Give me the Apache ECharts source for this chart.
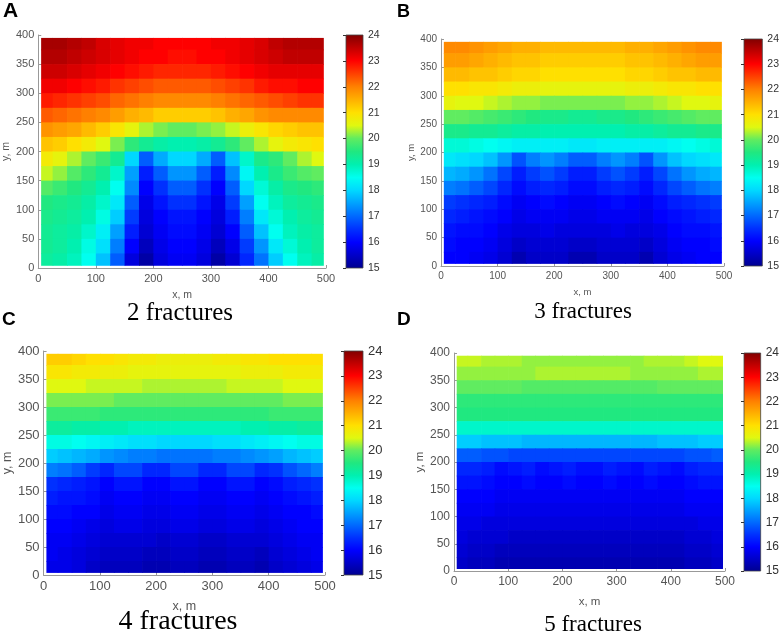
<!DOCTYPE html>
<html>
<head>
<meta charset="utf-8">
<script src="https://cdn.jsdelivr.net/npm/echarts@6/dist/echarts.min.js"></script>
<style>
html,body{margin:0;padding:0;background:#fff;}
#chart{width:782px;height:635px;}
</style>
</head>
<body>
<div id="chart"></div>
<script>
// ---------- data ----------
const PANEL_LETTERS = ['A', 'B', 'C', 'D'];
const PANEL_TITLES = ['2 fractures', '3 fractures', '4 fractures', '5 fractures'];
const X_CELLS = [12.5,37.5,62.5,87.5,112.5,137.5,162.5,187.5,212.5,237.5,262.5,287.5,312.5,337.5,362.5,387.5,412.5,437.5,462.5,487.5];
const Y_CELLS = [387.5,362.5,337.5,312.5,287.5,262.5,237.5,212.5,187.5,162.5,137.5,112.5,87.5,62.5,37.5,12.5];
const X_RANGE = [0, 500];
const Y_RANGE = [0, 400];
const COLOR_RANGE = [15, 24];
const X_TICK_STEP = 100;
const Y_TICK_STEP = 50;
const COLOR_TICK_STEP = 1;

// rows top (y=387.5) to bottom (y=12.5), columns x=12.5..487.5
const FIELD_2 = [
[23.7,23.7,23.6,23.5,23.3,23.2,23.1,23.1,23.0,23.0,23.0,23.0,23.1,23.1,23.2,23.3,23.5,23.6,23.6,23.6],
[23.6,23.6,23.5,23.4,23.3,23.2,23.1,23.0,23.0,22.9,22.9,23.0,23.0,23.1,23.2,23.3,23.4,23.5,23.5,23.5],
[23.4,23.4,23.3,23.2,23.1,23.0,22.9,22.8,22.7,22.7,22.7,22.7,22.8,22.9,23.0,23.1,23.2,23.2,23.2,23.2],
[23.1,23.1,23.0,22.9,22.8,22.6,22.5,22.4,22.3,22.3,22.3,22.3,22.4,22.5,22.6,22.8,22.9,22.9,23.0,23.0],
[22.8,22.7,22.6,22.5,22.4,22.2,22.1,22.0,21.9,21.9,21.9,21.9,22.0,22.1,22.2,22.3,22.4,22.5,22.6,22.6],
[22.3,22.2,22.1,22.0,21.9,21.7,21.5,21.4,21.2,21.2,21.2,21.2,21.3,21.5,21.6,21.8,21.9,21.9,21.9,21.9],
[21.8,21.7,21.6,21.4,21.2,20.9,20.6,20.3,20.1,20.0,20.0,20.1,20.2,20.4,20.7,20.9,21.1,21.2,21.3,21.3],
[21.3,21.2,21.0,20.8,20.5,20.1,19.6,19.3,19.1,19.0,19.0,19.1,19.3,19.6,20.0,20.3,20.6,20.8,20.9,21.0],
[20.8,20.6,20.3,20.0,19.7,19.3,18.0,16.9,17.6,18.0,18.0,17.6,16.9,17.8,18.8,19.4,19.6,20.0,20.3,20.5],
[20.4,20.2,19.9,19.6,19.3,18.8,17.5,16.3,16.9,17.4,17.4,16.9,16.3,17.3,18.4,19.0,19.4,19.7,19.9,20.0],
[19.9,19.7,19.5,19.3,19.0,18.5,17.3,16.0,16.5,16.9,16.9,16.5,16.0,16.9,18.0,18.7,19.1,19.4,19.5,19.6],
[19.5,19.4,19.3,19.1,18.8,18.2,16.9,15.8,16.2,16.5,16.5,16.2,15.8,16.6,17.5,18.5,18.9,19.2,19.3,19.4],
[19.4,19.3,19.2,19.0,18.6,17.9,16.6,15.7,16.0,16.2,16.2,16.0,15.7,16.3,17.2,18.2,18.7,19.0,19.2,19.3],
[19.3,19.2,19.1,18.8,18.3,17.5,16.3,15.6,15.9,16.1,16.1,15.9,15.6,16.0,16.9,17.8,18.5,18.9,19.1,19.2],
[19.3,19.2,19.0,18.6,18.1,17.2,16.0,15.4,15.8,16.0,16.0,15.8,15.4,15.8,16.6,17.4,18.2,18.7,19.0,19.2],
[19.2,19.1,18.9,18.5,17.8,16.9,15.7,15.2,15.7,15.9,15.9,15.7,15.2,15.6,16.4,17.1,17.9,18.5,18.9,19.1]
];
const FIELD_3 = [
[21.9,21.9,21.8,21.7,21.6,21.5,21.5,21.4,21.4,21.4,21.4,21.4,21.4,21.5,21.5,21.6,21.7,21.8,21.9,21.9],
[21.7,21.7,21.6,21.5,21.4,21.3,21.3,21.2,21.2,21.2,21.2,21.2,21.2,21.3,21.3,21.4,21.5,21.6,21.7,21.7],
[21.4,21.4,21.3,21.3,21.2,21.1,21.1,21.0,21.0,21.0,21.0,21.0,21.0,21.1,21.1,21.2,21.3,21.3,21.4,21.4],
[21.0,21.0,20.9,20.9,20.8,20.7,20.7,20.6,20.6,20.6,20.6,20.6,20.6,20.7,20.7,20.8,20.9,20.9,21.0,21.0],
[20.6,20.5,20.5,20.4,20.3,20.2,20.2,20.1,20.1,20.1,20.1,20.1,20.1,20.2,20.2,20.3,20.4,20.5,20.5,20.6],
[20.0,20.0,19.9,19.8,19.7,19.6,19.5,19.4,19.4,19.3,19.3,19.4,19.4,19.5,19.6,19.7,19.8,19.9,20.0,20.0],
[19.4,19.4,19.3,19.3,19.2,19.1,19.1,19.0,19.0,19.0,19.0,19.0,19.0,19.1,19.1,19.2,19.3,19.3,19.4,19.4],
[18.7,18.7,18.6,18.5,18.4,18.3,18.3,18.3,18.3,18.2,18.2,18.3,18.3,18.3,18.3,18.3,18.4,18.5,18.6,18.7],
[18.2,18.1,18.0,17.8,17.4,16.8,17.2,17.4,17.2,16.9,16.9,17.2,17.4,17.2,16.8,17.4,17.8,18.0,18.1,18.2],
[17.7,17.6,17.4,17.1,16.7,16.3,16.6,16.8,16.6,16.3,16.3,16.6,16.8,16.6,16.3,16.7,17.1,17.4,17.6,17.7],
[17.2,17.1,16.9,16.7,16.4,16.1,16.3,16.4,16.3,16.1,16.1,16.3,16.4,16.3,16.1,16.4,16.7,16.9,17.1,17.2],
[16.6,16.5,16.4,16.3,16.1,15.9,16.0,16.1,16.0,15.9,15.9,16.0,16.1,16.0,15.9,16.1,16.3,16.4,16.5,16.6],
[16.4,16.3,16.2,16.1,16.0,15.8,15.9,15.9,15.9,15.8,15.8,15.9,15.9,15.9,15.8,16.0,16.1,16.2,16.3,16.4],
[16.2,16.1,16.1,16.0,15.8,15.7,15.7,15.8,15.7,15.7,15.7,15.7,15.8,15.7,15.7,15.8,16.0,16.1,16.1,16.2],
[16.1,16.0,16.0,15.9,15.7,15.5,15.6,15.6,15.6,15.5,15.5,15.6,15.6,15.6,15.5,15.7,15.9,16.0,16.0,16.1],
[16.0,16.0,15.9,15.8,15.6,15.3,15.5,15.5,15.5,15.3,15.3,15.5,15.5,15.5,15.3,15.6,15.8,15.9,16.0,16.0]
];
const FIELD_4 = [
[21.2,21.2,21.1,21.0,21.0,20.9,20.8,20.8,20.7,20.7,20.7,20.7,20.8,20.8,20.9,20.9,21.0,21.0,21.0,21.0],
[20.9,20.9,20.8,20.8,20.7,20.7,20.6,20.6,20.6,20.6,20.6,20.6,20.6,20.6,20.7,20.7,20.7,20.8,20.8,20.8],
[20.5,20.5,20.5,20.4,20.4,20.4,20.4,20.3,20.3,20.3,20.3,20.3,20.3,20.4,20.4,20.4,20.4,20.5,20.5,20.5],
[20.1,20.1,20.1,20.1,20.1,20.0,20.0,20.0,20.0,20.0,20.0,20.0,20.0,20.0,20.0,20.0,20.0,20.1,20.1,20.1],
[19.7,19.7,19.7,19.7,19.6,19.6,19.6,19.6,19.6,19.6,19.6,19.6,19.6,19.6,19.6,19.6,19.7,19.7,19.7,19.7],
[19.2,19.2,19.1,19.1,19.0,19.0,18.9,18.9,18.9,18.9,18.9,18.9,18.9,18.9,19.0,19.0,19.1,19.1,19.2,19.2],
[18.6,18.6,18.5,18.4,18.3,18.2,18.1,18.1,18.0,18.0,18.0,18.0,18.1,18.1,18.2,18.3,18.4,18.5,18.6,18.6],
[17.9,17.8,17.7,17.6,17.4,17.3,17.2,17.2,17.1,17.1,17.1,17.1,17.2,17.2,17.3,17.4,17.5,17.7,17.8,17.9],
[17.2,17.1,16.9,16.6,16.4,16.7,16.7,16.4,16.4,16.7,16.7,16.4,16.4,16.7,16.7,16.4,16.5,16.8,17.0,17.2],
[16.5,16.4,16.3,16.2,16.0,16.2,16.2,16.0,16.0,16.2,16.2,16.0,16.0,16.2,16.2,16.0,16.1,16.3,16.4,16.5],
[16.3,16.2,16.2,16.1,15.9,16.0,16.0,15.9,15.9,16.0,16.0,15.9,15.9,16.0,16.0,15.9,16.0,16.1,16.2,16.3],
[16.1,16.1,16.0,16.0,15.8,15.9,15.9,15.8,15.8,15.9,15.9,15.8,15.8,15.9,15.9,15.8,15.9,16.0,16.0,16.1],
[16.0,16.0,15.9,15.8,15.7,15.8,15.8,15.7,15.7,15.8,15.8,15.7,15.7,15.8,15.8,15.7,15.8,15.9,16.0,16.0],
[15.9,15.9,15.8,15.7,15.6,15.6,15.6,15.6,15.5,15.6,15.6,15.5,15.5,15.6,15.6,15.6,15.7,15.8,15.9,15.9],
[15.9,15.8,15.7,15.6,15.5,15.5,15.5,15.4,15.4,15.5,15.5,15.4,15.4,15.5,15.5,15.4,15.6,15.7,15.8,15.9],
[15.8,15.8,15.7,15.5,15.4,15.4,15.4,15.3,15.3,15.4,15.4,15.3,15.3,15.4,15.4,15.3,15.5,15.6,15.7,15.8]
];
const FIELD_5 = [
[20.4,20.4,20.3,20.3,20.3,20.2,20.2,20.2,20.2,20.2,20.2,20.2,20.2,20.2,20.3,20.3,20.3,20.4,20.5,20.5],
[20.2,20.2,20.2,20.2,20.2,20.2,20.3,20.3,20.3,20.3,20.3,20.3,20.3,20.2,20.2,20.2,20.2,20.2,20.3,20.3],
[20.0,20.0,20.0,20.0,20.0,19.9,19.9,19.9,19.9,19.9,19.9,19.9,19.9,19.9,19.9,20.0,20.0,20.0,20.0,20.0],
[19.6,19.6,19.6,19.6,19.6,19.6,19.6,19.6,19.6,19.6,19.6,19.6,19.6,19.6,19.6,19.6,19.6,19.6,19.6,19.6],
[19.5,19.5,19.5,19.5,19.5,19.5,19.5,19.5,19.5,19.5,19.5,19.5,19.5,19.5,19.5,19.5,19.5,19.5,19.5,19.5],
[18.8,18.8,18.8,18.8,18.8,18.8,18.8,18.8,18.8,18.8,18.8,18.8,18.8,18.8,18.8,18.8,18.8,18.8,18.8,18.8],
[17.9,17.9,17.8,17.8,17.8,17.7,17.7,17.7,17.7,17.7,17.7,17.7,17.7,17.7,17.7,17.8,17.8,17.8,17.9,17.9],
[16.9,16.9,16.8,16.8,16.7,16.7,16.7,16.7,16.7,16.7,16.7,16.7,16.7,16.7,16.7,16.7,16.7,16.8,16.8,16.9],
[16.4,16.4,16.3,16.1,16.2,16.3,16.1,16.2,16.3,16.15,16.15,16.3,16.2,16.1,16.3,16.2,16.1,16.3,16.4,16.4],
[16.2,16.2,16.1,16.0,16.0,16.1,16.0,16.0,16.1,16.0,16.0,16.1,16.0,16.0,16.1,16.0,16.0,16.1,16.2,16.2],
[16.0,16.0,16.0,15.9,15.9,15.9,15.9,15.9,15.9,15.9,15.9,15.9,15.9,15.9,15.9,15.9,15.9,16.0,16.0,16.0],
[15.9,15.9,15.9,15.8,15.8,15.8,15.8,15.8,15.8,15.8,15.8,15.8,15.8,15.8,15.8,15.8,15.8,15.9,15.9,15.9],
[15.8,15.8,15.7,15.7,15.7,15.7,15.7,15.7,15.7,15.7,15.7,15.7,15.7,15.7,15.7,15.7,15.7,15.7,15.8,15.8],
[15.7,15.6,15.6,15.6,15.5,15.5,15.5,15.5,15.5,15.5,15.5,15.5,15.5,15.5,15.5,15.5,15.5,15.6,15.6,15.7],
[15.6,15.5,15.5,15.4,15.4,15.4,15.4,15.4,15.4,15.4,15.4,15.4,15.4,15.4,15.4,15.4,15.4,15.5,15.5,15.6],
[15.5,15.4,15.4,15.3,15.3,15.3,15.3,15.3,15.3,15.3,15.3,15.3,15.3,15.3,15.3,15.3,15.3,15.4,15.4,15.5]
];
const FIELDS = [FIELD_2, FIELD_3, FIELD_4, FIELD_5];

// ---------- style / layout ----------
const JET = ['#00008F','#0000C8','#0000FF','#0030FF','#0068FF','#00A0FF','#00D8FF','#00FFF0','#00F0B0',
             '#20E880','#60EC60','#E0F810','#FFE000','#FFB000','#FF8000','#FF4000','#FF0000','#C00000','#800000'];
const CELL = 25;
const FIELD_X = [5, 495];
const FIELD_Y = [5, 395];
const LAYOUT = [
  {grid:{left:34,top:35,width:292,height:233}, bar:{left:346,top:35,width:17,height:233},
   tick:11, barTick:10.5, nameGapX:22, nameGapY:21, letter:[3,1,21], title:[180,313,25]},
  {grid:{left:441,top:39,width:283,height:227}, bar:{left:744,top:39,width:20,height:227},
   tick:10, barTick:10.5, nameGapX:21, nameGapY:23, letter:[397,3,18], title:[583,312,23]},
  {grid:{left:43,top:351,width:282,height:224}, bar:{left:344,top:351,width:19,height:224},
   tick:13, barTick:13, nameGapX:25, nameGapY:29, letter:[2,310,19], title:[178,622,28]},
  {grid:{left:454,top:353,width:271,height:218}, bar:{left:744,top:353,width:20,height:218},
   tick:12, barTick:12, nameGapX:25, nameGapY:28, letter:[397,310,19], title:[593,625,23]}
];
const SANS = 'Liberation Sans, Arial, sans-serif';
const SERIF = 'Liberation Serif, Times New Roman, serif';

const chart = echarts.init(document.getElementById('chart'), null, {renderer:'canvas'});

function cellItem(params, api) {
  const cx = api.value(0), cy = api.value(1);
  const xa = Math.max(cx - CELL / 2, FIELD_X[0]), xb = Math.min(cx + CELL / 2, FIELD_X[1]);
  const ya = Math.max(cy - CELL / 2, FIELD_Y[0]), yb = Math.min(cy + CELL / 2, FIELD_Y[1]);
  const p0 = api.coord([xa, yb]), p1 = api.coord([xb, ya]);
  return {type:'rect', shape:{x:p0[0], y:p0[1], width:p1[0]-p0[0]+0.7, height:p1[1]-p0[1]+0.7},
          style:{fill: api.visual('color')}};
}
function barItem(params, api) {
  const p0 = api.coord([api.value(0), api.value(3)]);
  const p1 = api.coord([api.value(2), api.value(1)]);
  const stops = JET.slice().reverse().map((c, i, a) => ({offset: i / (a.length - 1), color: c}));
  return {type:'rect', shape:{x:p0[0], y:p0[1], width:p1[0]-p0[0], height:p1[1]-p0[1]},
          style:{fill: new echarts.graphic.LinearGradient(0, 0, 0, 1, stops), stroke:'#444', lineWidth:0.8}};
}

const grids = [], xAxes = [], yAxes = [], series = [], graphics = [];
LAYOUT.forEach((L, i) => {
  grids.push(L.grid);
  xAxes.push({type:'value', gridIndex:i, min:X_RANGE[0], max:X_RANGE[1], interval:X_TICK_STEP,
    name:'x, m', nameLocation:'middle', nameGap:L.nameGapX,
    nameTextStyle:{color:'#555', fontSize:L.tick - 0.5, fontFamily:SANS},
    axisLine:{show:true, lineStyle:{color:'#999', width:1}},
    axisTick:{show:true, inside:true, length:3, lineStyle:{color:'#999'}},
    axisLabel:{color:'#555', fontSize:L.tick, fontFamily:SANS, margin:5},
    splitLine:{show:false}});
  yAxes.push({type:'value', gridIndex:i, min:Y_RANGE[0], max:Y_RANGE[1], interval:Y_TICK_STEP,
    name:'y, m', nameLocation:'middle', nameGap:L.nameGapY, nameRotate:90,
    nameTextStyle:{color:'#555', fontSize:L.tick - 0.5, fontFamily:SANS},
    axisLine:{show:true, lineStyle:{color:'#999', width:1}},
    axisTick:{show:true, inside:true, length:3, lineStyle:{color:'#999'}},
    axisLabel:{color:'#555', fontSize:L.tick, fontFamily:SANS, margin:4},
    splitLine:{show:false}});
  const data = [];
  FIELDS[i].forEach((row, r) => row.forEach((v, c) => data.push([X_CELLS[c], Y_CELLS[r], v])));
  series.push({type:'custom', xAxisIndex:i, yAxisIndex:i, renderItem:cellItem, data:data,
    encode:{x:0, y:1}, clip:true, silent:true});
});
LAYOUT.forEach((L, i) => {
  const gi = 4 + i;
  grids.push(L.bar);
  xAxes.push({type:'value', gridIndex:gi, min:0, max:1, show:false});
  yAxes.push({type:'value', gridIndex:gi, min:COLOR_RANGE[0], max:COLOR_RANGE[1], interval:COLOR_TICK_STEP,
    position:'right',
    axisLine:{show:false},
    axisTick:{show:true, inside:true, length:3, lineStyle:{color:'#333'}},
    axisLabel:{color:'#333', fontSize:L.barTick, fontFamily:SANS, margin:5},
    splitLine:{show:false}, z:5});
  series.push({type:'custom', xAxisIndex:gi, yAxisIndex:gi, renderItem:barItem,
    data:[[0, COLOR_RANGE[0], 1, COLOR_RANGE[1]]], encode:{x:[0,2], y:[1,3]}, silent:true, z:1});
  graphics.push({type:'text', x:L.letter[0], y:L.letter[1],
    style:{text:PANEL_LETTERS[i], font:'bold ' + L.letter[2] + 'px ' + SANS, fill:'#000', textVerticalAlign:'top'}});
  graphics.push({type:'text', x:L.title[0], y:L.title[1],
    style:{text:PANEL_TITLES[i], font:L.title[2] + 'px ' + SERIF, fill:'#000', textAlign:'center', textVerticalAlign:'middle'}});
});

chart.setOption({
  animation:false,
  backgroundColor:'#fff',
  grid:grids, xAxis:xAxes, yAxis:yAxes, series:series,
  visualMap:[{type:'continuous', show:false, min:COLOR_RANGE[0], max:COLOR_RANGE[1], dimension:2,
    seriesIndex:[0,1,2,3], inRange:{color:JET}}],
  graphic:graphics
});
</script>
</body>
</html>
